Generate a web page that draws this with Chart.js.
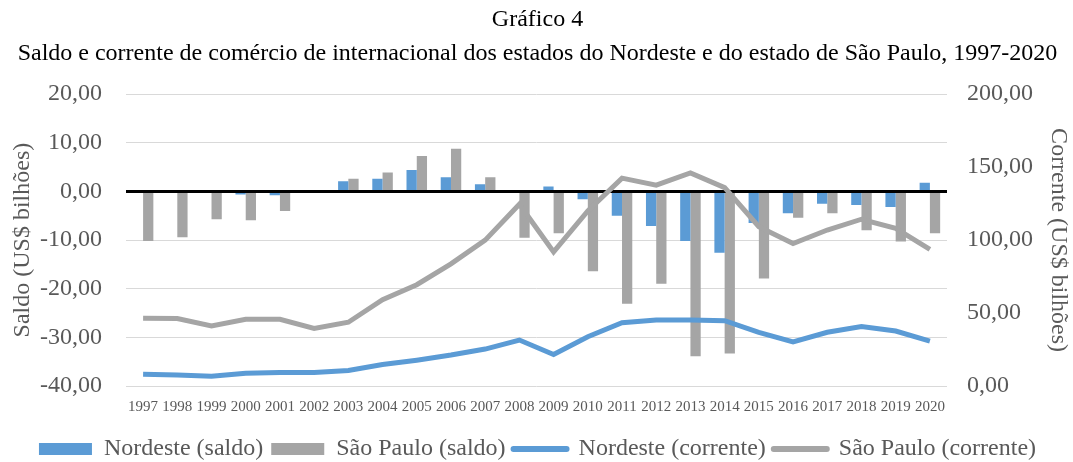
<!DOCTYPE html>
<html>
<head>
<meta charset="utf-8">
<script src="https://cdn.jsdelivr.net/npm/chart.js@4"></script>
<style>
  html, body { margin: 0; padding: 0; background: #fff; }
  #wrap { width: 1073px; height: 462px; }
</style>
</head>
<body>
<div id="wrap"><canvas id="grafico"></canvas></div>
<script>
// Anos
const anos = ["1997","1998","1999","2000","2001","2002","2003","2004","2005","2006","2007","2008",
  "2009","2010","2011","2012","2013","2014","2015","2016","2017","2018","2019","2020"];

// Saldo (US$ bilhões) - eixo esquerdo
const nordesteSaldo = [0, 0, 0, -0.6, -0.8, 0, 2.1, 2.6, 4.4, 2.9, 1.5, 0,
  1.0, -1.6, -5.0, -7.1, -10.2, -12.6, -6.5, -4.5, -2.5, -2.8, -3.2, 1.8];
const saoPauloSaldo = [-10.2, -9.4, -5.7, -5.9, -4.0, 0, 2.6, 3.9, 7.3, 8.8, 2.9, -9.5,
  -8.6, -16.4, -23.1, -19.0, -33.9, -33.3, -17.9, -5.4, -4.5, -8.0, -10.3, -8.6];

// Corrente (US$ bilhões) - eixo direito
const nordesteCorrente = [8.0, 7.6, 6.7, 8.7, 9.2, 9.2, 10.6, 14.7, 17.7, 21.2, 25.3, 31.5,
  21.6, 33.8, 43.4, 45.3, 45.3, 44.8, 36.8, 30.3, 36.8, 40.7, 37.7, 30.8];
const saoPauloCorrente = [46.4, 46.2, 41.2, 45.7, 45.7, 39.5, 43.7, 59.1, 69.4, 83.7, 100.0, 124.6,
  91.9, 120.0, 142.5, 137.7, 146.0, 136.0, 109.2, 97.7, 106.9, 114.3, 108.0, 93.6];

const azul = "#5B9BD5";
const cinza = "#A5A5A5";
const textoCinza = "#595959";
const fonte = "'Liberation Serif', 'Times New Roman', serif";

Chart.defaults.font.family = fonte;

function formatar(v) {
  return v.toFixed(2).replace(".", ",");
}

const ctx = document.getElementById("grafico").getContext("2d");
new Chart(ctx, {
  type: "bar",
  data: {
    labels: anos,
    datasets: [
      { label: "Nordeste (saldo)", data: nordesteSaldo, backgroundColor: azul, yAxisID: "ySaldo", order: 2 },
      { label: "São Paulo (saldo)", data: saoPauloSaldo, backgroundColor: cinza, yAxisID: "ySaldo", order: 2 },
      { type: "line", label: "Nordeste (corrente)", data: nordesteCorrente, borderColor: azul, backgroundColor: azul,
        borderWidth: 5, pointRadius: 0, tension: 0, yAxisID: "yCorrente", order: 1 },
      { type: "line", label: "São Paulo (corrente)", data: saoPauloCorrente, borderColor: cinza, backgroundColor: cinza,
        borderWidth: 5, pointRadius: 0, tension: 0, yAxisID: "yCorrente", order: 1 }
    ]
  },
  options: {
    responsive: true,
    maintainAspectRatio: false,
    animation: false,
    layout: { padding: { left: 3, right: 1, top: 3, bottom: -9 } },
    datasets: {
      bar: { categoryPercentage: 0.6, barPercentage: 1.0 }
    },
    plugins: {
      tooltip: { enabled: false },
      title: {
        display: true,
        text: ["Gráfico 4", "Saldo e corrente de comércio de internacional dos estados do Nordeste e do estado de São Paulo, 1997-2020"],
        color: "#000",
        font: { family: fonte, size: 24, weight: "normal", lineHeight: 1.4 },
        padding: { top: 0, bottom: 24 }
      },
      legend: {
        position: "bottom",
        labels: {
          color: textoCinza,
          font: { family: fonte, size: 24 },
          usePointStyle: true,
          pointStyleWidth: 53,
          boxHeight: 12,
          padding: 8,
          generateLabels: function (chart) {
            return chart.data.datasets.map((ds, i) => ({
              text: ds.label,
              fillStyle: ds.backgroundColor,
              strokeStyle: ds.type === "line" ? ds.borderColor : ds.backgroundColor,
              lineWidth: ds.type === "line" ? 6 : 0,
              lineCap: "round",
              pointStyle: ds.type === "line" ? "line" : "rect",
              fontColor: textoCinza,
              datasetIndex: i,
              hidden: false
            }));
          }
        }
      }
    },
    scales: {
      x: {
        grid: { display: false, drawTicks: false },
        border: { display: false },
        ticks: { color: textoCinza, font: { family: fonte, size: 15, lineHeight: 1.8 }, maxRotation: 0, autoSkip: false, padding: 8 }
      },
      ySaldo: {
        position: "left",
        min: -40, max: 20,
        border: { display: false },
        grid: {
          color: ctx => ctx.tick && ctx.tick.value === 0 ? "#000" : "#D9D9D9",
          lineWidth: ctx => ctx.tick && ctx.tick.value === 0 ? 3 : 1,
          drawTicks: false
        },
        ticks: { stepSize: 10, color: textoCinza, font: { family: fonte, size: 24 }, padding: 24,
          callback: v => formatar(v) },
        title: { display: true, text: "Saldo (US$ bilhões)", color: textoCinza, font: { family: fonte, size: 24, lineHeight: 1 },
          padding: { top: 8, bottom: -19 } }
      },
      yCorrente: {
        position: "right",
        min: 0, max: 200,
        border: { display: false },
        grid: { display: false, drawTicks: false },
        ticks: { stepSize: 50, color: textoCinza, font: { family: fonte, size: 24 }, padding: 20,
          callback: v => formatar(v) },
        title: { display: true, text: "Corrente (US$ bilhões)", color: textoCinza, font: { family: fonte, size: 24, lineHeight: 1 },
          padding: { top: 2, bottom: -7 } }
      }
    }
  }
});
</script>
</body>
</html>
